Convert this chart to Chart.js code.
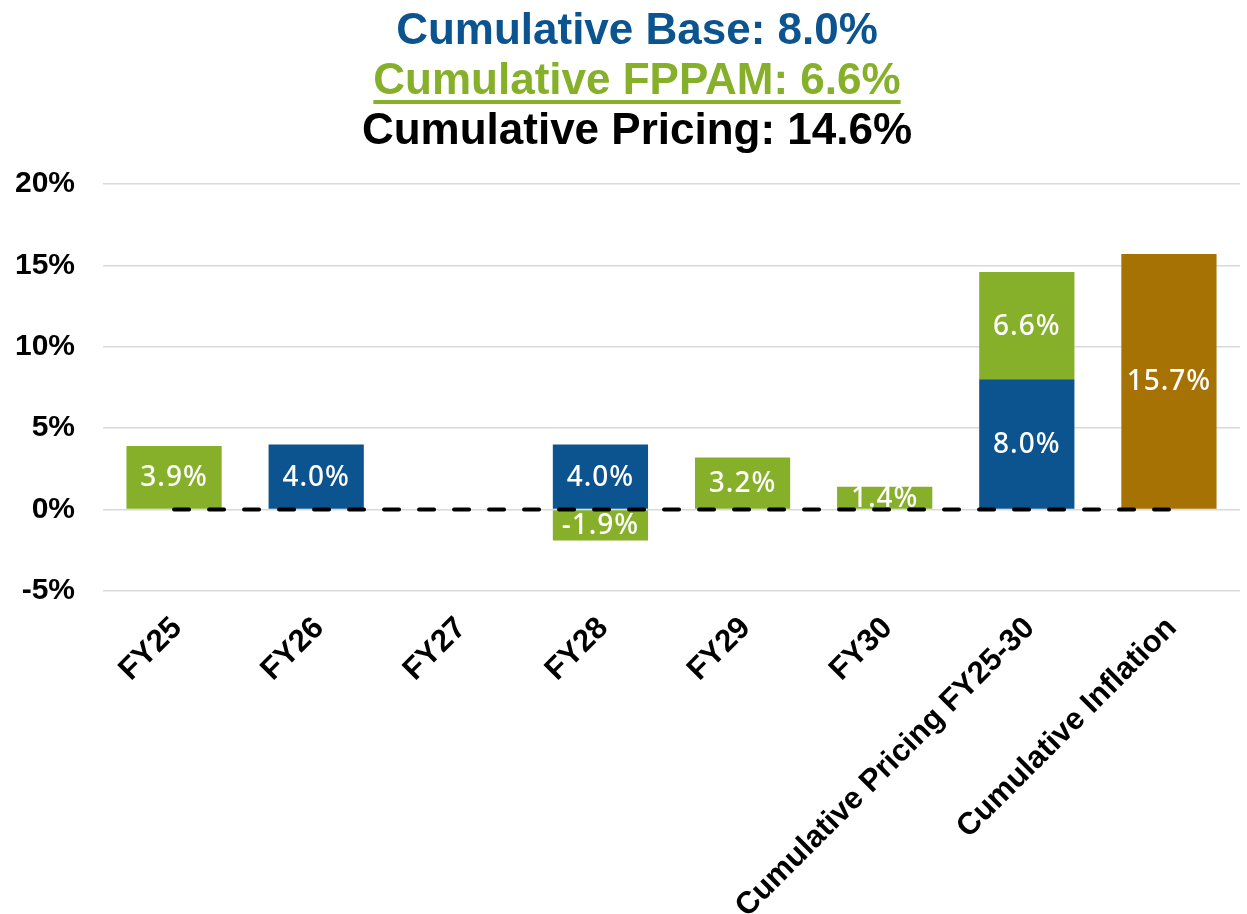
<!DOCTYPE html>
<html>
<head>
<meta charset="utf-8">
<script src="https://cdn.jsdelivr.net/npm/chart.js@4"></script>
<style>
  html, body { margin: 0; padding: 0; background: #fff; }
  #wrap { position: relative; width: 1247px; height: 914px; }
  .title {
    position: absolute; left: 27px; width: 1220px; text-align: center;
    font-family: "Liberation Sans", Arial, sans-serif; font-weight: bold;
    font-size: 44px; line-height: 50px;
  }
  #t1 { top: 4px; color: #0B548F; }
  #t2 { top: 54px; color: #87B02A; text-decoration: underline; text-decoration-thickness: 4px; text-underline-offset: 6px; }
  #t3 { top: 104px; color: #000; }
  canvas { position: absolute; left: 0; top: 0; }
</style>
</head>
<body>
<div id="wrap">
  <canvas id="myChart" width="1247" height="914"></canvas>
  <div class="title" id="t1">Cumulative Base: 8.0%</div>
  <div class="title" id="t2">Cumulative FPPAM: 6.6%</div>
  <div class="title" id="t3">Cumulative Pricing: 14.6%</div>
</div>
<script>
  'use strict';

  // Chart data
  const categories = ['FY25', 'FY26', 'FY27', 'FY28', 'FY29', 'FY30', 'Cumulative Pricing FY25-30', 'Cumulative Inflation'];
  const baseValues = [null, 4.0, null, 4.0, null, null, 8.0, null];
  const fppamValues = [3.9, null, null, -1.9, 3.2, 1.4, 6.6, null];
  const inflationValues = [null, null, null, null, null, null, null, 15.7];
  const zeroLine = [0, 0, 0, 0, 0, 0, 0, 0];
  const yTicks = [-5, 0, 5, 10, 15, 20];

  const BLUE = '#0B548F';
  const GREEN = '#87B02A';
  const ORANGE = '#A67204';
  const AXIS_FONT = '"Liberation Sans", Arial, sans-serif';

  /**
   * Draws the white value label in the middle of each bar
   */
  const barLabels = {
    id: 'barLabels',
    afterDatasetDraw(chart, args) {
      const ds = chart.data.datasets[args.index];
      if (ds.type === 'line') return;
      const ctx = chart.ctx;
      ctx.save();
      ctx.font = '500 28px "Noto Sans", sans-serif';
      ctx.letterSpacing = '1px';
      ctx.fillStyle = '#fff';
      ctx.textAlign = 'center';
      ctx.textBaseline = 'middle';
      args.meta.data.forEach((bar, i) => {
        const v = ds.data[i];
        if (v === null || v === undefined) return;
        const p = bar.getProps(['x', 'y', 'base'], true);
        ctx.fillText(v.toFixed(1) + '%', p.x, (p.y + p.base) / 2 + 1);
      });
      ctx.restore();
    }
  };

  const canvas = document.getElementById('myChart');
  new Chart(canvas, {
    type: 'bar',
    data: {
      labels: categories,
      datasets: [
        {
          type: 'line',
          label: 'Zero',
          data: zeroLine,
          borderColor: '#000',
          borderWidth: 4,
          borderDash: [15, 20],
          borderCapStyle: 'round',
          pointRadius: 0,
          stack: 'zero',
          order: 0
        },
        { label: 'Base', data: baseValues, backgroundColor: BLUE, stack: 'bars', order: 1 },
        { label: 'FPPAM', data: fppamValues, backgroundColor: GREEN, stack: 'bars', order: 1 },
        { label: 'Inflation', data: inflationValues, backgroundColor: ORANGE, stack: 'bars', order: 1 }
      ]
    },
    options: {
      responsive: false,
      animation: false,
      barPercentage: 0.67,
      categoryPercentage: 1,
      layout: { padding: { top: 184, left: 5, right: 7, bottom: 0 } },
      plugins: {
        legend: { display: false },
        tooltip: { enabled: false },
        title: { display: false }
      },
      scales: {
        x: {
          stacked: true,
          grid: { display: false },
          border: { display: false },
          afterFit: (axis) => { axis.height = 323; },
          ticks: {
            color: '#000',
            font: { family: AXIS_FONT, weight: 'bold', size: 31 },
            minRotation: 45,
            maxRotation: 45,
            labelOffset: 3,
            padding: 11
          }
        },
        y: {
          stacked: true,
          min: yTicks[0],
          max: yTicks[yTicks.length - 1],
          afterBuildTicks: (axis) => { axis.ticks = yTicks.map(v => ({ value: v })); },
          afterFit: (axis) => { axis.width = 98; },
          grid: { color: '#d9d9d9', lineWidth: 1.5, drawTicks: false },
          border: { display: false },
          ticks: {
            color: '#000',
            padding: 28,
            font: { family: AXIS_FONT, weight: 'bold', size: 30 },
            callback: (v) => v + '%'
          }
        }
      }
    },
    plugins: [barLabels]
  });
</script>
</body>
</html>
